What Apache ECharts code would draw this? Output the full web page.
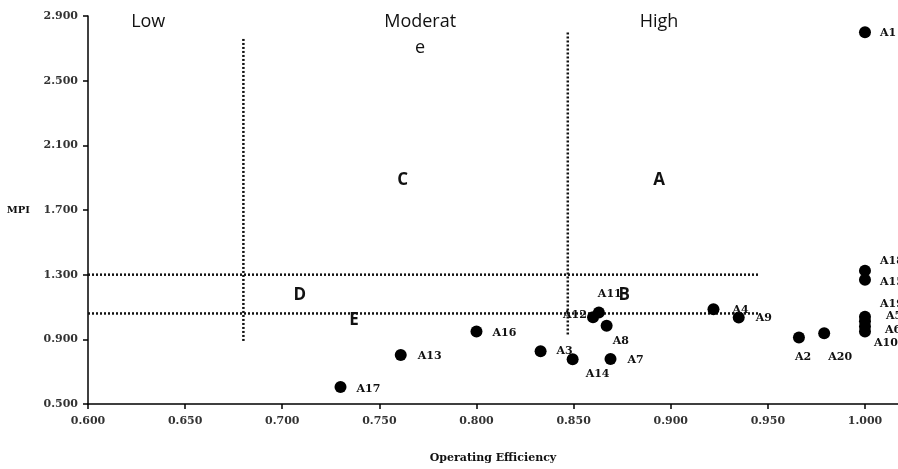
<html>
<head>
<meta charset="utf-8">
<title>MPI vs Operating Efficiency</title>
<script src="https://cdn.jsdelivr.net/npm/echarts@6/dist/echarts.min.js"></script>
<style>
  body { margin: 0px; background: white; }
  #chart { width: 898px; height: 469px; }
</style>
</head>
<body>
<div id="chart"></div>
<script>
  // firms, operating efficiency (x) and MPI (y)
  const firms = ['A1','A2','A3','A4','A5','A6','A7','A8','A9','A10',
                 'A11','A12','A13','A14','A15','A16','A17','A18','A19','A20']
  const efficiency = [1.000, 0.966, 0.833, 0.922, 1.000, 1.000, 0.869, 0.867, 0.935, 1.000,
                      0.863, 0.860, 0.761, 0.8495, 1.000, 0.800, 0.730, 1.000, 1.000, 0.979]
  const mpi = [2.800, 0.912, 0.826, 1.086, 1.012, 0.980, 0.779, 0.984, 1.035, 0.949,
               1.066, 1.037, 0.803, 0.777, 1.269, 0.949, 0.605, 1.325, 1.040, 0.937]

  // dotted split lines: [x1, y1, x2, y2]
  const splitLines = [
    [0.680, 0.89, 0.680, 2.77],
    [0.847, 0.93, 0.847, 2.80],
    [0.600, 1.30, 0.945, 1.30],
    [0.600, 1.06, 0.945, 1.06]
  ]

  // level titles and quadrant letters
  const levelNames = ['Low', 'Moderat\ne', 'High']
  const levelX = [0.631, 0.771, 0.894]
  const levelY = [2.862, 2.785, 2.862]
  const quadNames = ['A', 'B', 'C', 'D', 'E']
  const quadX = [0.894, 0.876, 0.762, 0.709, 0.737]
  const quadY = [1.885, 1.171, 1.885, 1.171, 1.017]

  const xTicks = { min: 0.6, max: 1.017, interval: 0.05 }
  const yTicks = { min: 0.5, max: 2.9, interval: 0.4 }

  // where each firm's label sits relative to its dot (px)
  const labelShift = {
    A1: [15, 1], A18: [15, -9], A15: [15, 2], A19: [15, -13], A5: [21, -5],
    A6: [20, 4], A10: [9, 12], A4: [19, 1], A9: [17, 1], A2: [-4, 20],
    A20: [4, 24], A8: [6, 15], A7: [17, 1], A14: [13, 15], A3: [16, 0],
    A12: [-30, -2], A11: [-1, -18], A16: [16, 2], A13: [17, 1], A17: [16, 2]
  }

  const serif = 'DejaVu Serif'
  const ink = '#111'

  const points = firms.map((name, i) => ({
    name: name,
    value: [efficiency[i], mpi[i]],
    label: { offset: labelShift[name] }
  }))

  const lineSeries = splitLines.map((l) => ({
    type: 'line',
    data: [[l[0], l[1]], [l[2], l[3]]],
    symbol: 'none',
    silent: true,
    lineStyle: { color: ink, width: 2.5, type: [2, 2] },
    z: 1
  }))

  const textSeries = (names, xs, ys, style) => ({
    type: 'scatter',
    symbolSize: 0,
    silent: true,
    itemStyle: { opacity: 1 },
    data: names.map((n, i) => ({ name: n, value: [xs[i], ys[i]] })),
    label: Object.assign({
      show: true, position: 'inside', formatter: '{b}', color: ink
    }, style)
  })

  const chart = echarts.init(document.getElementById('chart'))
  chart.setOption({
    animation: false,
    grid: { left: 88, right: 0, top: 16, bottom: 62 },
    xAxis: {
      type: 'value',
      min: xTicks.min, max: xTicks.max, interval: xTicks.interval,
      name: 'Operating Efficiency',
      nameLocation: 'middle',
      nameGap: 49,
      nameTextStyle: { fontFamily: serif, fontWeight: 'bold', fontSize: 11, color: ink },
      splitLine: { show: false },
      axisLine: { lineStyle: { color: '#000', width: 1.5 } },
      axisTick: { length: 5, lineStyle: { color: '#000', width: 1.5 } },
      axisLabel: {
        fontFamily: serif, fontWeight: 'bold', fontSize: 11, color: '#333',
        margin: 12, showMaxLabel: false,
        formatter: (v) => v.toFixed(3)
      }
    },
    yAxis: {
      type: 'value',
      min: yTicks.min, max: yTicks.max, interval: yTicks.interval,
      name: 'MPI',
      nameLocation: 'middle',
      nameRotate: 0,
      nameGap: 58,
      nameTextStyle: { fontFamily: serif, fontWeight: 'bold', fontSize: 10, color: ink },
      splitLine: { show: false },
      axisLine: { show: true, lineStyle: { color: '#000', width: 1.5 } },
      axisTick: { show: true, length: 5, lineStyle: { color: '#000', width: 1.5 } },
      axisLabel: {
        fontFamily: serif, fontWeight: 'bold', fontSize: 11, color: '#333',
        margin: 10,
        formatter: (v) => v.toFixed(3)
      }
    },
    series: lineSeries.concat([
      textSeries(levelNames, levelX, levelY,
        { fontFamily: 'Open Sans', fontSize: 18, lineHeight: 26, align: 'center' }),
      textSeries(quadNames, quadX, quadY,
        { fontFamily: 'Open Sans', fontWeight: 'bold', fontSize: 17, align: 'center' }),
      {
        type: 'scatter',
        symbolSize: 12,
        itemStyle: { color: '#000', opacity: 1 },
        data: points,
        z: 3,
        label: {
          show: true, position: 'inside', align: 'left', formatter: '{b}',
          fontFamily: serif, fontWeight: 'bold', fontSize: 11, color: ink
        }
      }
    ])
  })
</script>
</body>
</html>
